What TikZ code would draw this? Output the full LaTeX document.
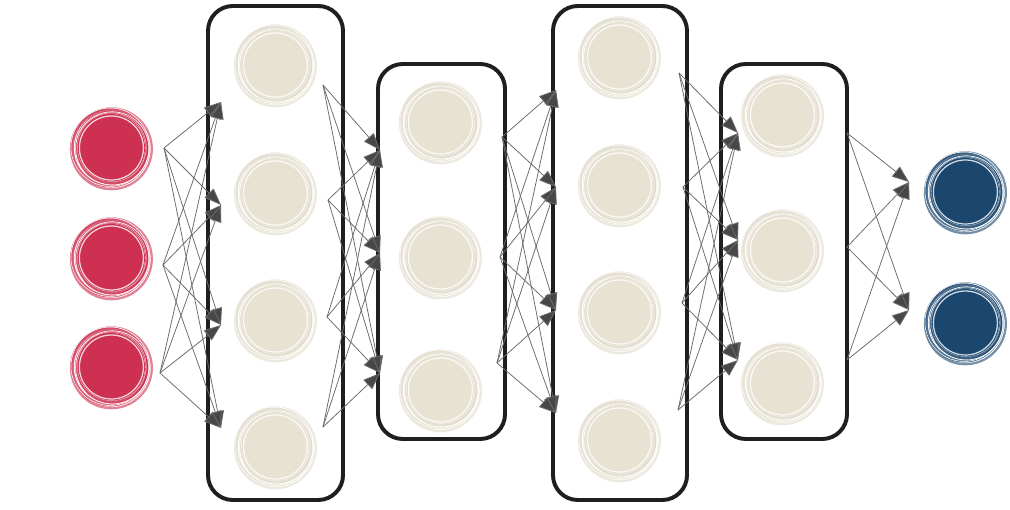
\documentclass[tikz,border=0pt]{standalone}
\usepackage{tikz}
\usetikzlibrary{positioning}
\usetikzlibrary{arrows.meta}

\definecolor{inred}{HTML}{CD3050}
\definecolor{outblue}{HTML}{1B466E}
\definecolor{hidbeige}{HTML}{E8E2D3}
\definecolor{beigering}{HTML}{E0DACA}

\tikzset{
  neuron/.style={circle, inner sep=0pt, minimum size=1.7cm, fill=#1, draw=none},
  ring/.style={draw=#1, line width=2.4pt, draw opacity=0.85},
  streak/.style={draw=white, line width=0.5pt},
  layerbox/.style={draw=black!88, line width=2.8pt, rounded corners=0.62cm},
  conn/.style={-{Triangle[length=12pt,width=9pt,fill=black!72]}, draw=black!58, line width=0.55pt}
}

\begin{document}
\begin{tikzpicture}[x=0.025cm,y=-0.025cm]
\useasboundingbox (0,0) rectangle (1010,510);

% input
\node[neuron=inred] (in1) at (111,148) {};
\node[neuron=inred] (in2) at (111,258) {};
\node[neuron=inred] (in3) at (111,367) {};

% hidden layers
\node[neuron=hidbeige] (hA1) at (275,65) {};
\node[neuron=hidbeige] (hA2) at (275,193) {};
\node[neuron=hidbeige] (hA3) at (275,320) {};
\node[neuron=hidbeige] (hA4) at (275,447) {};

\node[neuron=hidbeige] (hB1) at (440,122) {};
\node[neuron=hidbeige] (hB2) at (440,257) {};
\node[neuron=hidbeige] (hB3) at (440,390) {};

\node[neuron=hidbeige] (hC1) at (619,57) {};
\node[neuron=hidbeige] (hC2) at (619,185) {};
\node[neuron=hidbeige] (hC3) at (619,312) {};
\node[neuron=hidbeige] (hC4) at (619,440) {};

\node[neuron=hidbeige] (hD1) at (782,115) {};
\node[neuron=hidbeige] (hD2) at (782,250) {};
\node[neuron=hidbeige] (hD3) at (782,383) {};

% output
\node[neuron=outblue] (out1) at (965,192) {};
\node[neuron=outblue] (out2) at (965,323) {};

% sketchy rims
\foreach \n/\c in {in1/inred,in2/inred,in3/inred,out1/outblue,out2/outblue,
  hA1/beigering,hA2/beigering,hA3/beigering,hA4/beigering,hB1/beigering,hB2/beigering,hB3/beigering,
  hC1/beigering,hC2/beigering,hC3/beigering,hC4/beigering,hD1/beigering,hD2/beigering,hD3/beigering}{
  \draw[white, line width=0.9pt, draw opacity=0.8] ([shift={(0.01cm,0cm)}]\n.center) circle[radius=0.8cm];
  \draw[ring=\c] ([shift={(0.02cm,0.01cm)}]\n.center) circle[radius=0.88cm];
  \draw[ring=\c, line width=2.2pt, draw opacity=0.75] ([shift={(-0.02cm,0cm)}]\n.center) circle[radius=0.95cm];
  \draw[ring=\c, line width=1.6pt, draw opacity=0.6] ([shift={(0.01cm,-0.02cm)}]\n.center) circle[radius=1.01cm];
  \draw[streak] ([shift={(0.03cm,-0.01cm)}]\n.center) circle[radius=0.915cm];
  \draw[streak, line width=0.4pt] ([shift={(-0.02cm,0.02cm)}]\n.center) circle[radius=0.98cm];
  \draw[streak, line width=0.3pt, draw opacity=0.7] ([shift={(0.02cm,0.02cm)}]\n.center) circle[radius=0.86cm];
}

% layer boxes
\draw[layerbox] (208,6) rectangle (343,500);
\draw[layerbox] (378,64) rectangle (505,439);
\draw[layerbox] (553,6) rectangle (687,500);
\draw[layerbox] (721,64) rectangle (847,439);

% connector ends
\coordinate (i1o) at (164,148);
\coordinate (i2o) at (163,265);
\coordinate (i3o) at (160,373);
\coordinate (a1i) at (221,102);
\coordinate (a2i) at (221,205);
\coordinate (a3i) at (221,325);
\coordinate (a4i) at (221,428);
\coordinate (a1o) at (323,85);
\coordinate (a2o) at (328,200);
\coordinate (a3o) at (327,317);
\coordinate (a4o) at (323,427);
\coordinate (b1i) at (380,150);
\coordinate (b2i) at (380,253);
\coordinate (b3i) at (380,373);
\coordinate (b1o) at (502,137);
\coordinate (b2o) at (500,257);
\coordinate (b3o) at (497,363);
\coordinate (c1i) at (556,90);
\coordinate (c2i) at (556,187);
\coordinate (c3i) at (556,310);
\coordinate (c4i) at (556,413);
\coordinate (c1o) at (679,73);
\coordinate (c2o) at (683,187);
\coordinate (c3o) at (682,303);
\coordinate (c4o) at (678,410);
\coordinate (d1i) at (738,133);
\coordinate (d2i) at (738,240);
\coordinate (d3i) at (738,360);
\coordinate (d1o) at (847,133);
\coordinate (d2o) at (847,247);
\coordinate (d3o) at (847,360);
\coordinate (o1i) at (909,182);
\coordinate (o2i) at (909,310);

% input -> A
\draw (i1o) edge[conn] (a1i) (i1o) edge[conn] (a2i) (i1o) edge[conn] (a3i) (i1o) edge[conn] (a4i)
      (i2o) edge[conn] (a1i) (i2o) edge[conn] (a2i) (i2o) edge[conn] (a3i) (i2o) edge[conn] (a4i)
      (i3o) edge[conn] (a1i) (i3o) edge[conn] (a2i) (i3o) edge[conn] (a3i) (i3o) edge[conn] (a4i);
% A -> B
\draw (a1o) edge[conn] (b1i) (a1o) edge[conn] (b2i) (a1o) edge[conn] (b3i)
      (a2o) edge[conn] (b1i) (a2o) edge[conn] (b2i) (a2o) edge[conn] (b3i)
      (a3o) edge[conn] (b1i) (a3o) edge[conn] (b2i) (a3o) edge[conn] (b3i)
      (a4o) edge[conn] (b1i) (a4o) edge[conn] (b2i) (a4o) edge[conn] (b3i);
% B -> C
\draw (b1o) edge[conn] (c1i) (b1o) edge[conn] (c2i) (b1o) edge[conn] (c3i) (b1o) edge[conn] (c4i)
      (b2o) edge[conn] (c1i) (b2o) edge[conn] (c2i) (b2o) edge[conn] (c3i) (b2o) edge[conn] (c4i)
      (b3o) edge[conn] (c1i) (b3o) edge[conn] (c2i) (b3o) edge[conn] (c3i) (b3o) edge[conn] (c4i);
% C -> D
\draw (c1o) edge[conn] (d1i) (c1o) edge[conn] (d2i) (c1o) edge[conn] (d3i)
      (c2o) edge[conn] (d1i) (c2o) edge[conn] (d2i) (c2o) edge[conn] (d3i)
      (c3o) edge[conn] (d1i) (c3o) edge[conn] (d2i) (c3o) edge[conn] (d3i)
      (c4o) edge[conn] (d1i) (c4o) edge[conn] (d2i) (c4o) edge[conn] (d3i);
% D -> output
\draw (d1o) edge[conn] (o1i) (d1o) edge[conn] (o2i)
      (d2o) edge[conn] (o1i) (d2o) edge[conn] (o2i)
      (d3o) edge[conn] (o1i) (d3o) edge[conn] (o2i);
\end{tikzpicture}
\end{document}
